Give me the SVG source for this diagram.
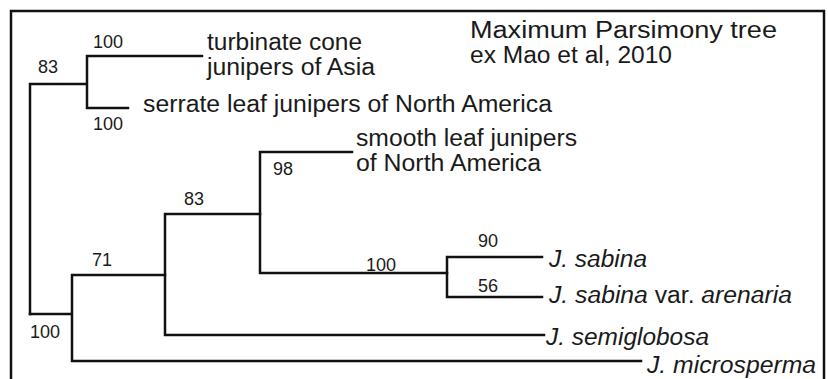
<svg xmlns="http://www.w3.org/2000/svg" width="828" height="379" viewBox="0 0 828 379">
<style>
.br{fill:none;stroke:#111;stroke-width:2.5;stroke-linecap:square}
.lb{font-family:"Liberation Sans",Arial,sans-serif;font-size:23px;fill:#1a1a1a}
.it{font-style:italic}
.bs{font-family:"Liberation Sans",Arial,sans-serif;font-size:18px;fill:#1a1a1a}
</style>
<rect width="828" height="379" fill="#fff"/>
<rect id="frame" x="11" y="11" width="813" height="390" fill="none" stroke="#111" stroke-width="2.5"/>
<g id="title">
<text class="lb" x="470" y="38" font-size="22" textLength="307" lengthAdjust="spacingAndGlyphs">Maximum Parsimony tree</text>
<text class="lb" x="470" y="63" font-size="19" textLength="202" lengthAdjust="spacingAndGlyphs">ex Mao et al, 2010</text>
</g>
<g id="connectors">
<path class="br" d="M30,84V314M30,84H87M87,56V108M87,56H202M87,108H128"/>
<path class="br" d="M30,314H72M72,275V361M72,275H165M72,361H641"/>
<path class="br" d="M165,214V335M165,214H260M165,335H544"/>
<path class="br" d="M260,152V273M260,152H352M260,273H447"/>
<path class="br" d="M447,257V297M447,257H542M447,297H542"/>
</g>
<g id="support">
<text class="bs" x="38" y="73">83</text>
<text class="bs" x="93" y="48">100</text>
<text class="bs" x="93" y="130">100</text>
<text class="bs" x="273" y="175">98</text>
<text class="bs" x="184" y="205">83</text>
<text class="bs" x="92" y="266">71</text>
<text class="bs" x="30" y="338">100</text>
<text class="bs" x="366" y="271">100</text>
<text class="bs" x="478" y="247">90</text>
<text class="bs" x="478" y="292">56</text>
</g>
<g id="tip-turbinate">
<text class="lb" x="207" y="50" textLength="155" lengthAdjust="spacingAndGlyphs">turbinate cone</text>
<text class="lb" x="207" y="75" textLength="168" lengthAdjust="spacingAndGlyphs">junipers of Asia</text>
</g>
<g id="tip-serrate">
<text class="lb" x="143" y="112" textLength="409" lengthAdjust="spacingAndGlyphs">serrate leaf junipers of North America</text>
</g>
<g id="tip-smooth">
<text class="lb" x="356" y="146" textLength="221" lengthAdjust="spacingAndGlyphs">smooth leaf junipers</text>
<text class="lb" x="356" y="171" textLength="185" lengthAdjust="spacingAndGlyphs">of North America</text>
</g>
<g id="tip-sabina">
<text class="lb it" x="549" y="267" textLength="98" lengthAdjust="spacingAndGlyphs">J. sabina</text>
</g>
<g id="tip-arenaria">
<text class="lb" x="549" y="303" textLength="243" lengthAdjust="spacingAndGlyphs"><tspan class="it">J. sabina</tspan> var. <tspan class="it">arenaria</tspan></text>
</g>
<g id="tip-semiglobosa">
<text class="lb it" x="546" y="345" textLength="163" lengthAdjust="spacingAndGlyphs">J. semiglobosa</text>
</g>
<g id="tip-microsperma">
<text class="lb it" x="647" y="373" textLength="169" lengthAdjust="spacingAndGlyphs">J. microsperma</text>
</g>
</svg>
